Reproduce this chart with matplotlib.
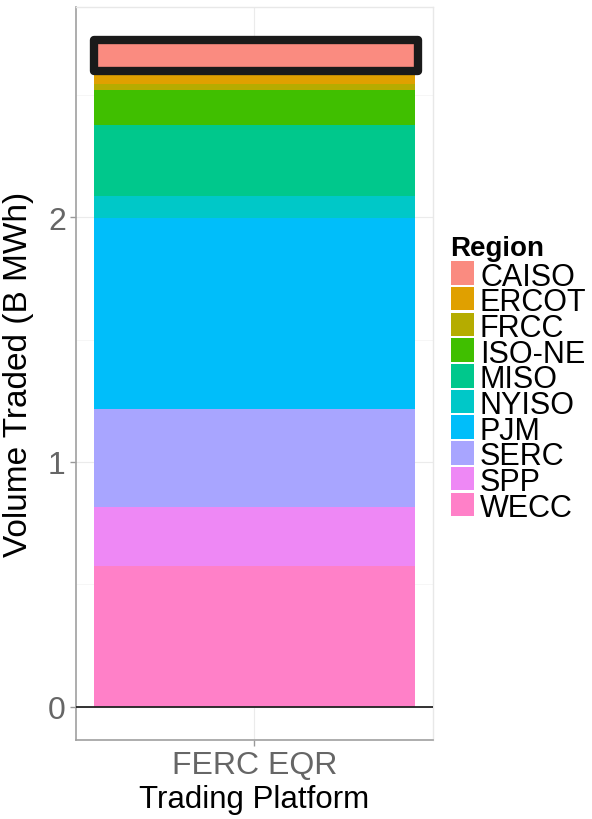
import numpy as np
import matplotlib
matplotlib.use("Agg")
import matplotlib.pyplot as plt
from matplotlib.patches import Rectangle

plt.rcParams['font.family'] = ['Liberation Sans', 'DejaVu Sans']

# data (B MWh)
platform = "FERC EQR"
regions = ['CAISO', 'ERCOT', 'FRCC', 'ISO-NE', 'MISO', 'NYISO', 'PJM', 'SERC', 'SPP', 'WECC']
volumes = [0.124, 0.054, 0.027, 0.142, 0.290, 0.089, 0.781, 0.402, 0.240, 0.574]
colors = ['#FA8B80', '#E0A000', '#B5AC00', '#40BF00', '#00C88C',
          '#00C8C8', '#00BEFA', '#A8A5FF', '#EE88F5', '#FF80C8']
yticks = [0, 1, 2]

fig = plt.figure(figsize=(5.92, 8.2), dpi=100)
ax = fig.add_axes([76/592, 1-741/820, (432.7-76)/592, (741-8)/820])

# stacked bar, first region on top
bottom = 0.0
tops = {}
for name, v, c in zip(regions[::-1], volumes[::-1], colors[::-1]):
    ax.bar(1, v, width=0.9, bottom=bottom, color=c, linewidth=0, zorder=2)
    tops[name] = (bottom, bottom + v)
    bottom += v

# highlight box round CAISO
lo, hi = tops['CAISO']
ax.add_patch(Rectangle((0.55, lo), 0.91, hi - lo, fill=False, edgecolor='#1a1a1a',
                       linewidth=6, joinstyle='round', zorder=4))

ax.axhline(0, color='#222222', lw=1.3, zorder=3)

total = sum(volumes)
ax.set_xlim(0.5, 1.5)
ax.set_ylim(-0.05*total, 1.05*total)
ax.set_xticks([1])
ax.set_xticklabels([platform])
ax.set_yticks(yticks)
ax.set_yticks([0.5, 1.5, 2.5], minor=True)
ax.grid(True, which='major', color='#EBEBEB', lw=0.8, zorder=0)
ax.grid(True, which='minor', axis='y', color='#F5F5F5', lw=0.6, zorder=0)
ax.set_axisbelow(True)

ax.tick_params(axis='both', which='major', labelsize=23, labelcolor='#666666',
               color='#999999', length=4.3, width=1, pad=3)
ax.tick_params(axis='y', which='minor', length=0)
for s in ['left', 'bottom']:
    ax.spines[s].set_color('#A0A0A0')
    ax.spines[s].set_linewidth(1.2)
for s in ['top', 'right']:
    ax.spines[s].set_color('#E8E8E8')
    ax.spines[s].set_linewidth(1)

ax.set_xlabel("Trading Platform", fontsize=22.5, color='black')
ax.xaxis.set_label_coords(0.5, -0.060)
ax.set_ylabel("Volume Traded (B MWh)", fontsize=24, color='black')
ax.yaxis.set_label_coords(-0.118, 0.5)

# legend
fig.text(450/592, 1-256/820, "Region", fontsize=20, fontweight='bold',
         ha='left', va='baseline')
pitch = 25.7
for i, (name, c) in enumerate(zip(regions, colors)):
    yc = 274 + i*pitch
    fig.patches.append(Rectangle((451/592, 1-(yc+11.7)/820), 23.3/592, 23.4/820,
                                 transform=fig.transFigure, facecolor=c,
                                 edgecolor='none', figure=fig))
    fig.text(480/592, 1-yc/820, name, fontsize=22, ha='left', va='center_baseline')

fig.savefig("out.png", dpi=100)
